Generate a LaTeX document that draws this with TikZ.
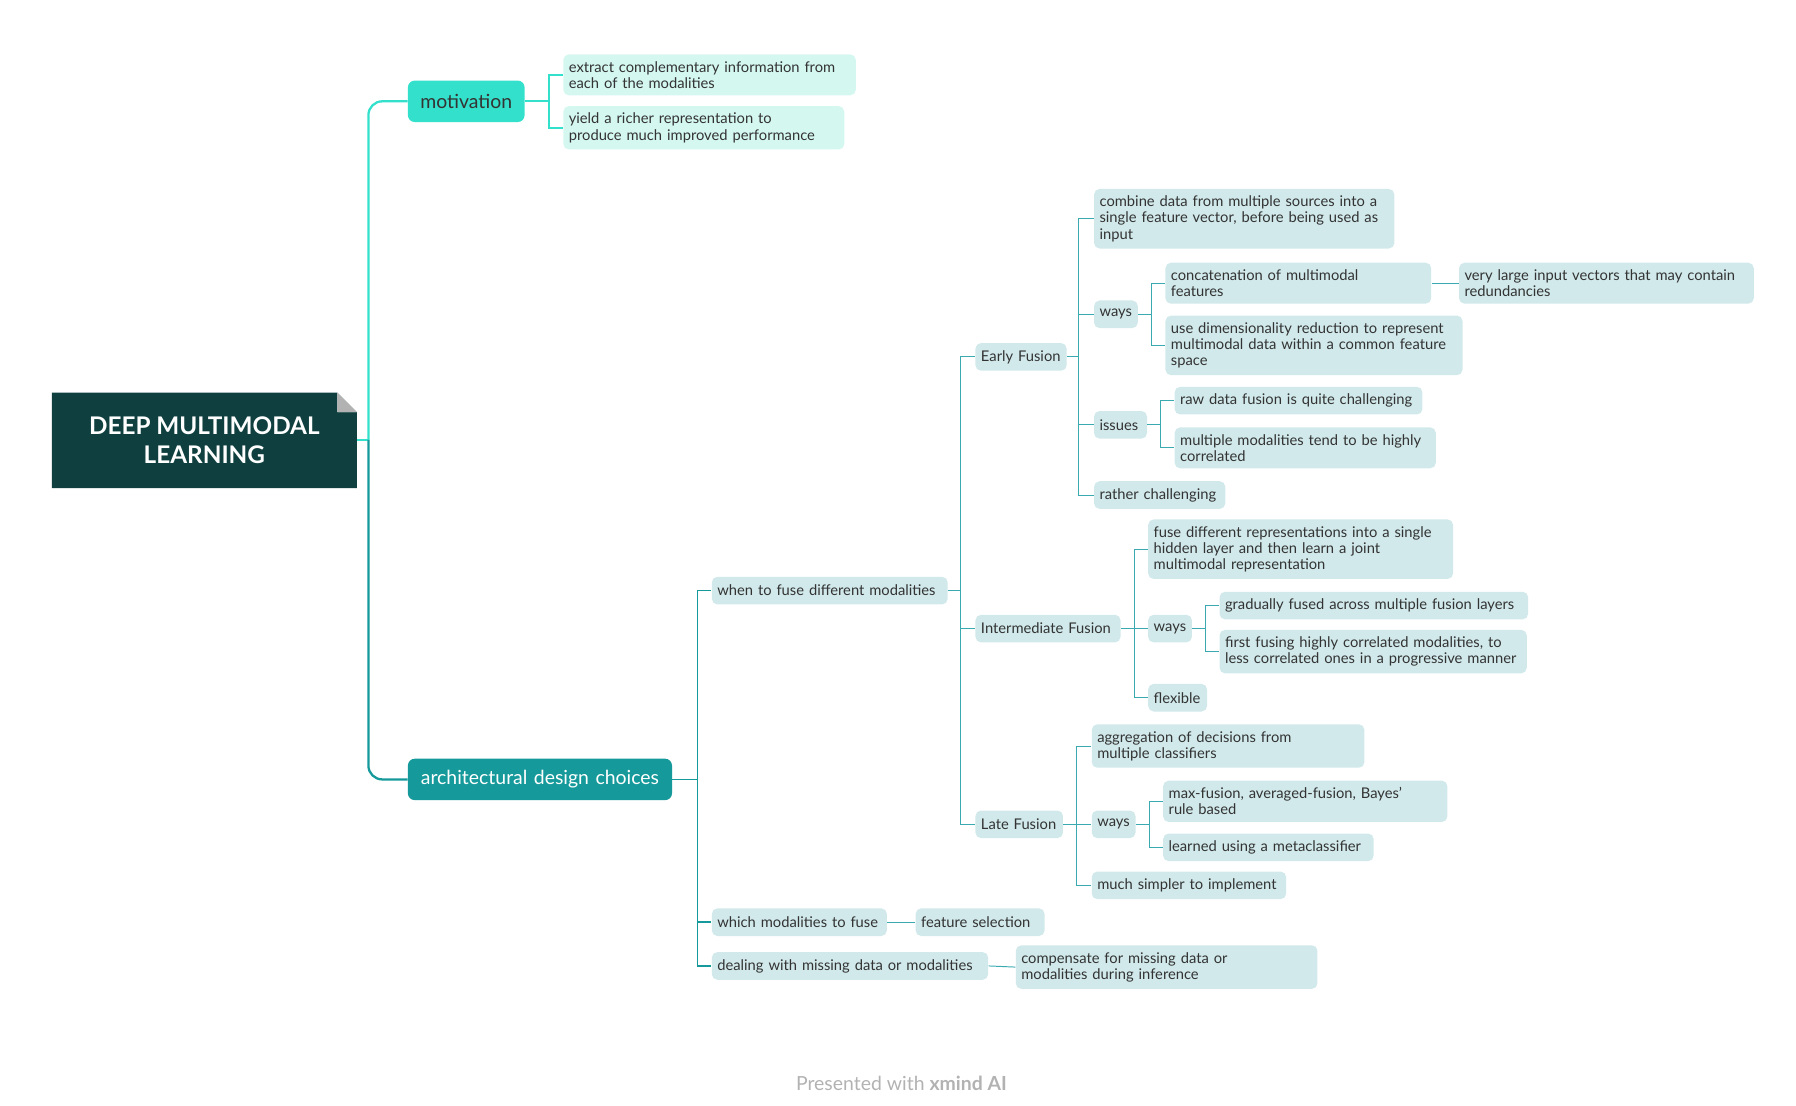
\documentclass[tikz,border=0pt]{standalone}
\usepackage{fontspec}
\setmainfont{Lato}
\usepackage{xcolor}
\usetikzlibrary{positioning}
\definecolor{rootfill}{HTML}{0F3F3F}
\definecolor{motfill}{HTML}{33E0CB}
\definecolor{archfill}{HTML}{15999A}
\definecolor{motleaf}{HTML}{D4F7F0}
\definecolor{archleaf}{HTML}{D1E9EB}
\definecolor{inkgray}{HTML}{333333}
\definecolor{linkcol}{HTML}{3AAAB0}

\begin{document}
\begin{tikzpicture}[
		x=0.025cm, y=-0.025cm,
		leaf/.style={rectangle, rounded corners=0.12cm, fill=archleaf, anchor=west, align=left,
			inner xsep=0.12cm, inner ysep=0.15cm, minimum height=0.6cm, text=inkgray,
			font=\fontsize{9.1}{10}\selectfont},
		mleaf/.style={leaf, fill=motleaf},
		branch/.style={rectangle, rounded corners=0.15cm, anchor=west, minimum height=0.9cm,
			align=center, font=\fontsize{12}{14}\selectfont},
		link/.style={draw=linkcol, line width=0.6pt},
		motlink/.style={draw=motfill, line width=1.4pt},
		archlink/.style={draw=archfill, line width=1.4pt}
	]
		\useasboundingbox (0,0) rectangle (1560,960);
		
		% Root
		\fill[rootfill] (45,341) -- (293,341) -- (310,358) -- (310,424) -- (45,424) -- cycle;
		\fill[white] (293,341) -- (310,358) -- (293,358) -- cycle;
		\fill[gray!60] (293,341) -- (293,358) -- (310,358) -- cycle;
		\node[text=white, align=center, font=\fontsize{15}{18}\selectfont\bfseries] (root) at (177.5,382.5)
			{DEEP MULTIMODAL\\LEARNING};
		\coordinate (rootE) at (310,382);
		\coordinate (rT) at (320,382);
		
		% Main branches
		\node[branch, fill=motfill, text=inkgray, text width=2.3cm] (mot) at (354,88) {motivation};
		\node[branch, fill=archfill, text=white, text width=5.5cm] (arch) at (354,677) {architectural design choices};
		
		% Motivation
		\node[mleaf, text width=6.11cm] (mot1) at (489,65) {extract complementary information from\\each of the modalities};
		\node[mleaf, text width=5.86cm] (mot2) at (489,111) {yield a richer representation to\\produce much improved performance};
		
		% Architectural design choices
		\node[leaf, text width=4.88cm] (when) at (618,513) {when to fuse different modalities};
		\node[leaf, text width=3.56cm] (which) at (618,801) {which modalities to fuse};
		\node[leaf, text width=5.76cm] (deal) at (618,839) {dealing with missing data or modalities};
		\node[leaf, text width=2.56cm] (feat) at (795,801) {feature selection};
		\node[leaf, text width=6.31cm] (comp) at (882,840) {compensate for missing data or\\modalities during inference};
		
		% When to fuse
		\node[leaf, text width=1.74cm] (early) at (847,310) {Early Fusion};
		\node[leaf, text width=2.91cm] (inter) at (847,546) {Intermediate Fusion};
		\node[leaf, text width=1.66cm] (late) at (847,716) {Late Fusion};
		
		% Early fusion
		\node[leaf, text width=6.28cm] (comb) at (950,190) {combine data from multiple sources into a\\single feature vector, before being used as\\input};
		\node[leaf, text width=0.71cm] (eways) at (950,273) {ways};
		\node[leaf, text width=0.91cm] (issues) at (950,369) {issues};
		\node[leaf, text width=2.61cm] (rather) at (950,430) {rather challenging};
		\node[leaf, text width=5.53cm] (concat) at (1012,246) {concatenation of multimodal\\features};
		\node[leaf, text width=6.21cm] (dimred) at (1012,300) {use dimensionality reduction to represent\\multimodal data within a common feature\\space};
		\node[leaf, text width=6.16cm] (large) at (1267,246) {very large input vectors that may contain\\redundancies};
		\node[leaf, text width=5.14cm] (raw) at (1020,348) {raw data fusion is quite challenging};
		\node[leaf, text width=5.43cm] (corr) at (1020,389) {multiple modalities tend to be highly\\correlated};
		
		% Intermediate fusion
		\node[leaf, text width=6.38cm] (fuse) at (997,477) {fuse different representations into a single\\hidden layer and then learn a joint\\multimodal representation};
		\node[leaf, text width=0.71cm] (iways) at (997,546) {ways};
		\node[leaf, text width=1.04cm] (flex) at (997,606) {flexible};
		\node[leaf, text width=6.46cm] (grad) at (1059,526) {gradually fused across multiple fusion layers};
		\node[leaf, text width=6.43cm] (first) at (1059,566) {first fusing highly correlated modalities, to\\less correlated ones in a progressive manner};
		
		% Late fusion
		\node[leaf, text width=5.68cm] (aggr) at (948,648) {aggregation of decisions from\\multiple classifiers};
		\node[leaf, text width=0.71cm] (lways) at (948,716) {ways};
		\node[leaf, text width=3.98cm] (simple) at (948,769) {much simpler to implement};
		\node[leaf, text width=5.93cm] (maxf) at (1010,696) {max-fusion, averaged-fusion, Bayes'\\rule based};
		\node[leaf, text width=4.33cm] (meta) at (1010,736) {learned using a metaclassifier};
		
		% Trunk from root
		\draw[motlink] (rootE) -- (rT);
		\draw[motlink, rounded corners=0.3cm] (rT) |- (mot.west);
		\draw[archlink, rounded corners=0.3cm] (rT) |- (arch.west);
		
		% Motivation links
		\coordinate (mT) at (477,88);
		\draw[motlink] (mot.east) -- (mT);
		\foreach \c in {mot1,mot2} \draw[motlink, line width=1pt] (mT) |- (\c.west);
		
		% Arch links
		\coordinate (aT) at (606,677);
		\draw[archlink, line width=1pt] (arch.east) -- (aT);
		\foreach \c in {when,which,deal} \draw[archlink, line width=1pt] (aT) |- (\c.west);
		\draw[link] (which.east) -- (feat.west);
		\draw[link] (deal.east) -- (comp.west);
		
		\coordinate (wT) at (834,513);
		\draw[link] (when.east) -- (wT);
		\foreach \c in {early,inter,late} \draw[link] (wT) |- (\c.west);
		
		\coordinate (eT) at (937,310);
		\draw[link] (early.east) -- (eT);
		\foreach \c in {comb,eways,issues,rather} \draw[link] (eT) |- (\c.west);
		\coordinate (ewT) at (1000,273);
		\draw[link] (eways.east) -- (ewT);
		\foreach \c in {concat,dimred} \draw[link] (ewT) |- (\c.west);
		\draw[link] (concat.east) -- (large.west);
		\coordinate (isT) at (1008,369);
		\draw[link] (issues.east) -- (isT);
		\foreach \c in {raw,corr} \draw[link] (isT) |- (\c.west);
		
		\coordinate (iT) at (985,546);
		\draw[link] (inter.east) -- (iT);
		\foreach \c in {fuse,iways,flex} \draw[link] (iT) |- (\c.west);
		\coordinate (iwT) at (1047,546);
		\draw[link] (iways.east) -- (iwT);
		\foreach \c in {grad,first} \draw[link] (iwT) |- (\c.west);
		
		\coordinate (lT) at (935,716);
		\draw[link] (late.east) -- (lT);
		\foreach \c in {aggr,lways,simple} \draw[link] (lT) |- (\c.west);
		\coordinate (lwT) at (998,716);
		\draw[link] (lways.east) -- (lwT);
		\foreach \c in {maxf,meta} \draw[link] (lwT) |- (\c.west);
		
		% Footer
		\node[text=gray!60, font=\fontsize{12}{14}\selectfont] (foot) at (783,941) {Presented with \textbf{xmind AI}};
	\end{tikzpicture}
\end{document}
